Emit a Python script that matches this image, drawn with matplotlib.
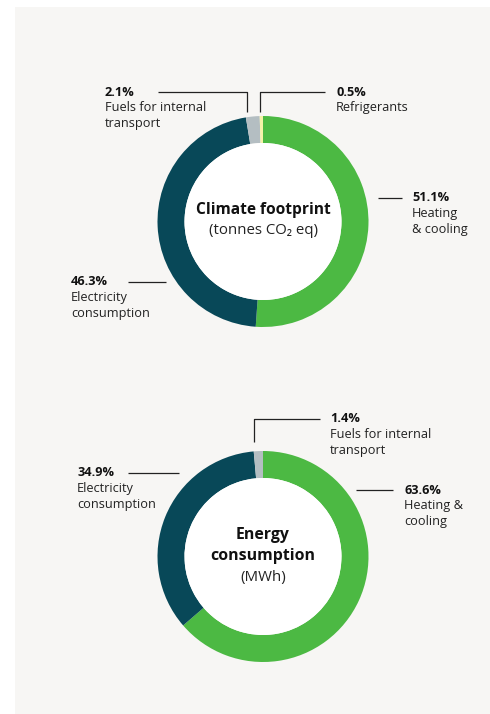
import matplotlib
matplotlib.use("Agg")
import matplotlib.pyplot as plt
from matplotlib.patches import Rectangle, Circle

plt.rcParams['font.family'] = ['Open Sans', 'Noto Sans', 'DejaVu Sans']

# ---- data ----
climate_categories = ["Heating\n& cooling", "Electricity\nconsumption",
                      "Fuels for internal\ntransport", "Refrigerants"]
climate_values = [51.1, 46.3, 2.1, 0.5]
climate_title = "Climate footprint"
climate_subtitle = "(tonnes CO\u2082 eq)"

energy_categories = ["Heating &\ncooling", "Electricity\nconsumption",
                     "Fuels for internal\ntransport"]
energy_values = [63.6, 34.9, 1.4]
energy_title = "Energy\nconsumption"
energy_subtitle = "(MWh)"

colors = ["#4cb943", "#084858", "#b4bec2", "#f5f2a8"]

W, H = 490, 714
fig = plt.figure(figsize=(W / 100, H / 100), dpi=100)
fig.patch.set_facecolor("white")
ax = fig.add_axes([0, 0, 1, 1])

def Y(y):
    return H - y

ax.add_patch(Rectangle((15, 0), W - 15, H - 7, facecolor="#f7f6f4",
                       edgecolor="none", zorder=0))

R = 105.5
WIDTH = 27

def donut(values, cx, cy):
    ax.pie(values, colors=colors[:len(values)], startangle=90,
           counterclock=False, center=(cx, Y(cy)), radius=R,
           wedgeprops=dict(width=WIDTH, edgecolor="none", linewidth=0),
           frame=True)
    ax.add_patch(Circle((cx, Y(cy)), R - WIDTH, facecolor="white",
                        edgecolor="none", zorder=3))

LS = 15.8
FS = 9.2

def label(x, y, pct, text):
    ax.text(x, Y(y), f"{pct}%", fontsize=FS, fontweight="bold",
            color="#111111", ha="left", va="center")
    for i, line in enumerate(text.split("\n")):
        ax.text(x, Y(y + LS * (i + 1)), line, fontsize=FS,
                color="#222222", ha="left", va="center")

def leader(xs, ys):
    ax.plot(xs, [Y(v) for v in ys], color="#222222", lw=0.9,
            solid_capstyle="butt", zorder=4)

# ---- donut 1 ----
donut(climate_values, 263, 221.5)
ax.text(263, Y(209.5), climate_title, fontsize=11.2, fontweight="bold",
        color="#111111", ha="center", va="center", zorder=5)
ax.text(263, Y(231), climate_subtitle, fontsize=10.8, color="#222222",
        ha="center", va="center", zorder=5)

leader([158, 247, 247], [92, 92, 112])
label(105, 92, climate_values[2], climate_categories[2])
leader([325, 260, 260], [92, 92, 112])
label(336, 92, climate_values[3], climate_categories[3])
leader([378, 402], [197.5, 197.5])
label(412, 197.5, climate_values[0], climate_categories[0])
leader([128, 166], [281.5, 281.5])
label(71, 281.5, climate_values[1], climate_categories[1])

# ---- donut 2 ----
donut(energy_values, 263, 556.5)
ax.text(263, Y(535), energy_title.split("\n")[0], fontsize=11.4,
        fontweight="bold", color="#111111", ha="center", va="center", zorder=5)
ax.text(263, Y(556), energy_title.split("\n")[1], fontsize=11.4,
        fontweight="bold", color="#111111", ha="center", va="center", zorder=5)
ax.text(263, Y(578), energy_subtitle, fontsize=10.8, color="#222222",
        ha="center", va="center", zorder=5)

leader([254, 254, 320], [441.5, 418.5, 418.5])
label(330, 418.5, energy_values[2], energy_categories[2])
leader([128, 179], [472.5, 472.5])
label(77, 472.5, energy_values[1], energy_categories[1])
leader([356, 393], [490, 490])
label(404, 490, energy_values[0], energy_categories[0])

ax.set_xlim(0, W)
ax.set_ylim(0, H)
ax.set_aspect("auto")
ax.axis("off")

fig.savefig("out.png", dpi=100, facecolor="white")
